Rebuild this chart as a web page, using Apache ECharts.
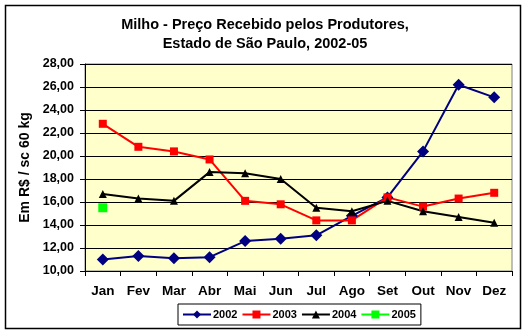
<!DOCTYPE html>
<html>
<head>
<meta charset="utf-8">
<script src="https://cdn.jsdelivr.net/npm/echarts@6/dist/echarts.min.js"></script>
<style>
  html, body { margin: 0; padding: 0; background: #ffffff; }
  #chart { width: 528px; height: 335px; }
</style>
</head>
<body>
<div id="chart"></div>
<script>
// Monthly maize prices received by producers, São Paulo (R$ per 60 kg bag)
const months = ['Jan', 'Fev', 'Mar', 'Abr', 'Mai', 'Jun', 'Jul', 'Ago', 'Set', 'Out', 'Nov', 'Dez'];
const price2002 = [11.0, 11.3, 11.1, 11.2, 12.6, 12.8, 13.1, 14.8, 16.4, 20.4, 26.2, 25.1];
const price2003 = [22.8, 20.8, 20.4, 19.7, 16.1, 15.8, 14.4, 14.4, 16.4, 15.6, 16.3, 16.8];
const price2004 = [16.7, 16.3, 16.1, 18.6, 18.5, 18.0, 15.5, 15.2, 16.1, 15.2, 14.7, 14.2];
const price2005 = [15.5, null, null, null, null, null, null, null, null, null, null, null];
const yTicks = { min: 10, max: 28, step: 2 };

const font = 'Liberation Sans, Arial, sans-serif';
const chart = echarts.init(document.getElementById('chart'), null, { renderer: 'canvas' });

function lineSeries(name, data, color, symbol, size, width) {
  return {
    name, type: 'line', data,
    symbol, symbolSize: size,
    lineStyle: { color, width },
    itemStyle: { color },
    showSymbol: true,
    connectNulls: false,
    animation: false
  };
}

chart.setOption({
  backgroundColor: '#ffffff',
  animation: false,
  title: {
    text: 'Milho - Preço Recebido pelos Produtores,\nEstado de São Paulo, 2002-05',
    left: 260, textAlign: 'center', top: 10,
    textStyle: { fontFamily: font, fontSize: 14.5, fontWeight: 'bold', color: '#000', lineHeight: 19 }
  },
  graphic: [{
    type: 'rect', silent: true, z: 100,
    shape: { x: 5.5, y: 5.5, width: 515, height: 323 },
    style: { fill: 'none', stroke: '#000', lineWidth: 1.5 }
  }],
  legend: {
    bottom: 10, left: 178,
    itemWidth: 28, itemHeight: 10, itemGap: 4,
    padding: [5, 5, 5, 4],
    borderColor: '#000', borderWidth: 1,
    textStyle: { fontFamily: font, fontSize: 11, fontWeight: 'bold', color: '#000', padding: [0, 0, 0, -3] },
    data: ['2002', '2003', '2004', '2005']
  },
  grid: { left: 85, right: 16, top: 64, bottom: 64, show: true, backgroundColor: '#FFFFCC', borderColor: '#808080', borderWidth: 1 },
  xAxis: {
    type: 'category', data: months, boundaryGap: true,
    axisLine: { lineStyle: { color: '#000', width: 1 } },
    axisTick: { show: true, length: 5, lineStyle: { color: '#000' } },
    axisLabel: { fontFamily: font, fontSize: 13.5, fontWeight: 'bold', color: '#000', margin: 13 }
  },
  yAxis: {
    type: 'value', min: yTicks.min, max: yTicks.max, interval: yTicks.step,
    name: 'Em R$ / sc 60 kg', nameLocation: 'middle', nameGap: 52, nameRotate: 90,
    nameTextStyle: { fontFamily: font, fontSize: 14, fontWeight: 'bold', color: '#000' },
    axisLine: { show: true, lineStyle: { color: '#000', width: 1 } },
    axisTick: { show: true, length: 5, lineStyle: { color: '#000' } },
    splitLine: { lineStyle: { color: '#000', width: 1 } },
    axisLabel: {
      fontFamily: font, fontSize: 12.5, fontWeight: 'bold', color: '#000', margin: 11,
      formatter: v => v.toFixed(2).replace('.', ',')
    }
  },
  series: [
    lineSeries('2002', price2002, '#000080', 'diamond', 12, 2),
    lineSeries('2003', price2003, '#FF0000', 'rect', 8, 2),
    lineSeries('2004', price2004, '#000000', 'triangle', 8, 2),
    lineSeries('2005', price2005, '#00FF00', 'rect', 9, 2)
  ]
});
</script>
</body>
</html>
